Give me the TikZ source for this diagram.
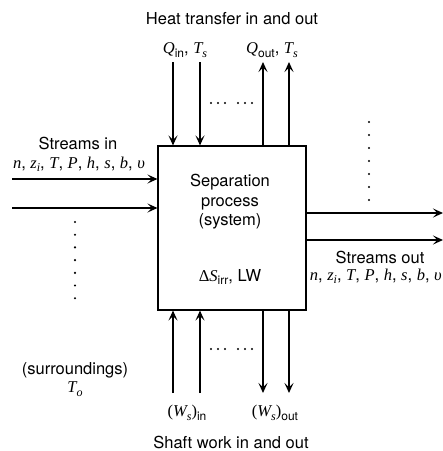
\documentclass[tikz,border=0pt]{standalone}
\usepackage{fontspec}
\setmainfont{TeX Gyre Heros}
\newfontfamily\tms{Liberation Serif}
\usetikzlibrary{arrows.meta}
\newcommand{\mv}[1]{{\tms\itshape #1}}
\newcommand{\rmv}[1]{{\tms #1}}
\newcommand{\sbs}[1]{\raisebox{-0.4ex}{\fontsize{12}{12}\selectfont #1}}
\newcommand{\vars}{\mv{n}, \mv{z}\sbs{\mv{i}}, \mv{T}, \mv{P}, \mv{h}, \mv{s}, \mv{b}, \mv{υ}}
\tikzset{
  x=1pt, y=-1pt,
  lbl/.style={inner sep=0pt, font=\fontsize{16.5}{19.5}\selectfont, align=center},
  arr/.style={line width=1.8pt, -{Stealth[length=10pt,width=9pt,inset=4.5pt]}},
  sysbox/.style={draw, line width=1.1pt, minimum width=148pt, minimum height=164pt, inner sep=0pt},
  dot/.style={circle, fill, inner sep=0pt, minimum size=2.4pt}
}
\begin{document}
\begin{tikzpicture}
\useasboundingbox (0,0) rectangle (443,451);
\node[sysbox] (box) at (232,228) {};
\node[lbl] (sep) at (230,202) {Separation\\process\\(system)};
\node[lbl] (irr) at (230,277) {\rmv{Δ}\mv{S}\sbs{irr}, LW};
% heat
\node[lbl] (heat) at (232,19) {Heat transfer in and out};
\node[lbl] (qin) at (185,50) {\mv{Q}\sbs{in}, \mv{T}\sbs{\mv{s}}};
\node[lbl] (qout) at (272,50) {\mv{Q}\sbs{out}, \mv{T}\sbs{\mv{s}}};
\coordinate (t1) at (173,62);
\coordinate (t2) at (200,62);
\coordinate (t3) at (263,62);
\coordinate (t4) at (289,62);
\draw[arr] (t1) -- (t1 |- box.north);
\draw[arr] (t2) -- (t2 |- box.north);
\draw[arr] (t3 |- box.north) -- (t3);
\draw[arr] (t4 |- box.north) -- (t4);
\foreach \x in {211,218,225,238,245,252} \node[dot] at (\x,103) {};
% shaft work
\coordinate (b1) at (173,393);
\coordinate (b2) at (200,393);
\coordinate (b3) at (263,393);
\coordinate (b4) at (289,393);
\draw[arr] (b1) -- (b1 |- box.south);
\draw[arr] (b2) -- (b2 |- box.south);
\draw[arr] (b3 |- box.south) -- (b3);
\draw[arr] (b4 |- box.south) -- (b4);
\foreach \x in {211,218,225,238,245,252} \node[dot] at (\x,349) {};
\node[lbl] (win) at (187,413) {\rmv{(}\mv{W}\sbs{\mv{s}}\rmv{)}\sbs{in}};
\node[lbl] (wout) at (275,413) {\rmv{(}\mv{W}\sbs{\mv{s}}\rmv{)}\sbs{out}};
\node[lbl] (shaft) at (231,442) {Shaft work in and out};
% streams in
\node[lbl] (sin) at (78,143) {Streams in};
\node[lbl] (vin) at (79,164) {\vars};
\coordinate (i1) at (12,179);
\coordinate (i2) at (12,208);
\draw[arr] (i1) -- (i1 -| box.west);
\draw[arr] (i2) -- (i2 -| box.west);
\foreach \k in {0,...,6} \node[dot] at (75,222+12.7*\k) {};
% streams out
\coordinate (o1) at (443,213);
\coordinate (o2) at (443,240);
\draw[arr] (o1 -| box.east) -- (o1);
\draw[arr] (o2 -| box.east) -- (o2);
\foreach \k in {0,...,6} \node[dot] at (369,122+13*\k) {};
\node[lbl] (sout) at (380,257) {Streams out};
\node[lbl, anchor=east] (vout) at (442,276) {\vars};
% surroundings
\node[lbl] (sur) at (75,370) {(surroundings)};
\node[lbl] (to) at (75,389) {\mv{T}\sbs{\mv{o}}};
\end{tikzpicture}
\end{document}
